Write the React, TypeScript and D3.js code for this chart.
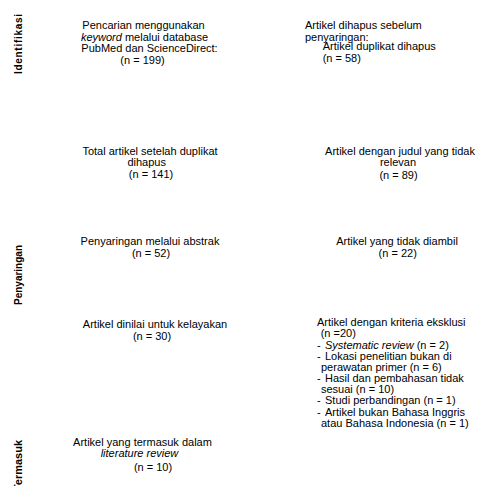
import React from "react";
import * as d3 from "d3";

// ---------- data (text content) ----------
const stageLabels = ["Identifikasi", "Penyaringan", "Termasuk"];

const searchText = [
  "Pencarian menggunakan",
  "*keyword* melalui database",
  "PubMed dan ScienceDirect:",
  "(n = 199)",
];
const removedText = [
  "Artikel dihapus sebelum",
  "penyaringan:",
  "Artikel duplikat dihapus",
  "(n = 58)",
];
const afterDupText = ["Total artikel setelah duplikat", "dihapus", "(n = 141)"];
const irrelevantText = ["Artikel dengan judul yang tidak", "relevan", "(n = 89)"];
const abstractText = ["Penyaringan melalui abstrak", "(n = 52)"];
const notRetrievedText = ["Artikel yang tidak diambil", "(n = 22)"];
const eligibilityText = ["Artikel dinilai untuk kelayakan", "(n = 30)"];
const exclusionHeader = ["Artikel dengan kriteria eksklusi", "(n =20)"];
const exclusionItems = [
  ["*Systematic review* (n = 2)"],
  ["Lokasi penelitian bukan di", "perawatan primer (n = 6)"],
  ["Hasil dan pembahasan tidak", "sesuai (n = 10)"],
  ["Studi perbandingan (n = 1)"],
  ["Artikel bukan Bahasa Inggris", "atau Bahasa Indonesia (n = 1)"],
];
const includedText = ["Artikel yang termasuk dalam", "*literature review*", "(n = 10)"];

// ---------- layout ----------
const W = 478;
const H = 486;
const FONT = "'Liberation Sans', Arial, Helvetica, sans-serif";
const FS = 11;

type Block = { lines: string[]; x: number[]; y: number[]; anchor: "middle" | "start" };

const blocks: Block[] = [
  { lines: searchText, x: [143.5, 144.5, 149.5, 142.5], y: [29, 40.6, 52.2, 64], anchor: "middle" },
  { lines: removedText, x: [305, 305, 322.7, 322.7], y: [29, 40.6, 49.8, 61.5], anchor: "start" },
  { lines: afterDupText, x: [150, 146.7, 151], y: [154.7, 166.2, 178], anchor: "middle" },
  { lines: irrelevantText, x: [400, 398, 398.5], y: [154.7, 166.2, 179], anchor: "middle" },
  { lines: abstractText, x: [150, 151], y: [244.7, 257], anchor: "middle" },
  { lines: notRetrievedText, x: [397, 397.7], y: [245.3, 257.3], anchor: "middle" },
  { lines: eligibilityText, x: [155, 152], y: [328, 340], anchor: "middle" },
  { lines: includedText, x: [142.5, 139.5, 153], y: [445.7, 457.2, 470.5], anchor: "middle" },
];

const stageLayout: { cy: number; len?: number; fs: number }[] = [
  { cy: 44, len: 60, fs: 10 },
  { cy: 275, len: 60, fs: 10 },
  { cy: 465.5, fs: 11 },
];

function Segs({ s }: { s: string }) {
  const parts = s.split("*");
  return (
    <>
      {parts.map((p, i) =>
        p ? (
          <tspan key={i} fontStyle={i % 2 === 1 ? "italic" : "normal"}>
            {p}
          </tspan>
        ) : null
      )}
    </>
  );
}

export default function App() {
  // baseline scale for the exclusion list (line index -> baseline)
  const exY = d3.scaleLinear().domain([0, 1]).range([326.3, 337.45]);

  const exLines: { text: string; x: number; y: number; dash: boolean }[] = [];
  exLines.push({ text: exclusionHeader[0], x: 317, y: exY(0), dash: false });
  exLines.push({ text: exclusionHeader[1], x: 320.7, y: exY(1), dash: false });
  let idx = 2;
  exclusionItems.forEach((item) => {
    item.forEach((t, j) => {
      exLines.push({ text: t, x: j === 0 ? 325 : 321, y: exY(idx), dash: j === 0 });
      idx++;
    });
  });

  return (
    <svg
      width={W}
      height={H}
      style={{ position: "absolute", left: 0, top: 0, background: "#fff" }}
      fontFamily={FONT}
      fontSize={FS}
      fill="#000"
    >
      {stageLabels.map((s, i) => (
        <text
          key={s}
          transform={`translate(22,${stageLayout[i].cy}) rotate(-90)`}
          textAnchor="middle"
          fontWeight="bold"
          fontSize={stageLayout[i].fs}
          textLength={stageLayout[i].len}
          lengthAdjust={stageLayout[i].len ? "spacing" : undefined}
        >
          {s}
        </text>
      ))}

      {blocks.map((b, bi) =>
        b.lines.map((l, li) => (
          <text key={`${bi}-${li}`} x={b.x[li]} y={b.y[li]} textAnchor={b.anchor}>
            <Segs s={l} />
          </text>
        ))
      )}

      {exLines.map((l, i) => (
        <g key={`ex-${i}`}>
          {l.dash && (
            <text x={317} y={l.y}>
              -
            </text>
          )}
          <text x={l.x} y={l.y}>
            <Segs s={l.text} />
          </text>
        </g>
      ))}
    </svg>
  );
}
